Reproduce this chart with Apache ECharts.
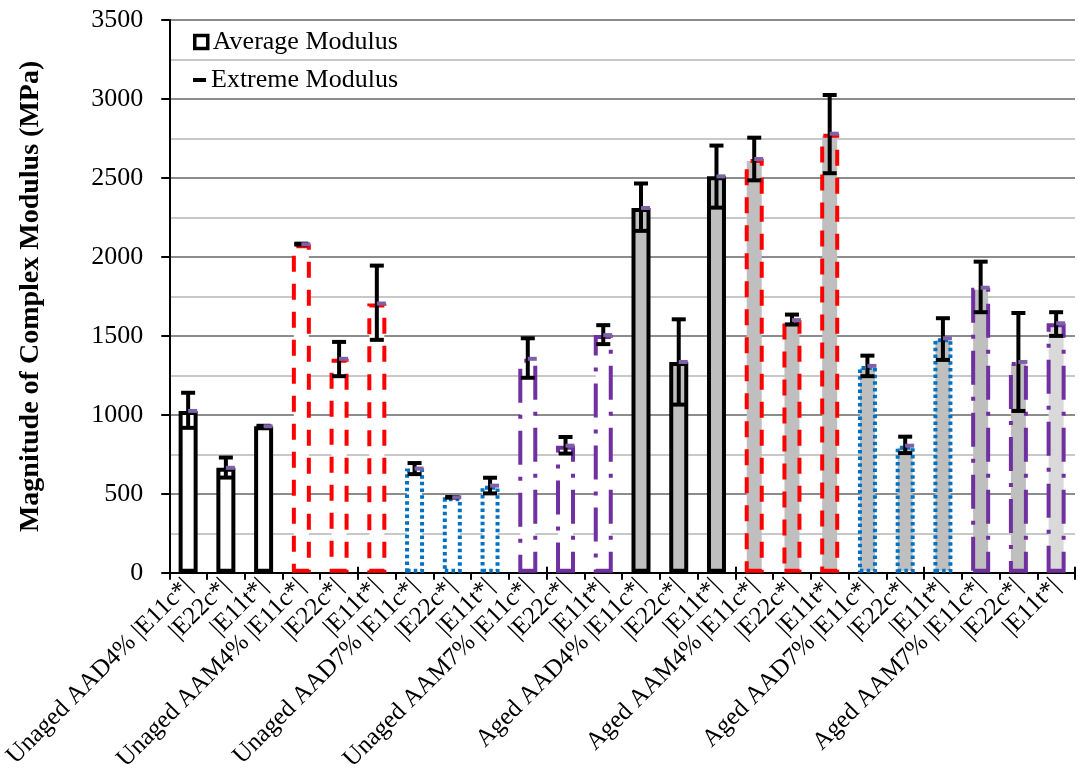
<!DOCTYPE html>
<html>
<head>
<meta charset="utf-8">
<script src="https://cdn.jsdelivr.net/npm/echarts@6/dist/echarts.min.js"></script>
<style>
  html, body { margin: 0; padding: 0; background: #fff; }
  #chart { width: 1078px; height: 774px; }
</style>
</head>
<body>
<div id="chart"></div>
<script>
// Mixture groups and the three modulus components measured for each
const groups = ['Unaged AAD4%', 'Unaged AAM4%', 'Unaged AAD7%', 'Unaged AAM7%',
                'Aged AAD4%', 'Aged AAM4%', 'Aged AAD7%', 'Aged AAM7%'];
const components = ['|E11c*|', '|E22c*|', '|E11t*|'];

// Average modulus (MPa), one per bar
const averageModulus = [1025, 665, 928, 2080, 1355, 1705, 660, 478, 552, 1355, 805, 1505,
                        2310, 1335, 2510, 2620, 1600, 2780, 1310, 805, 1485, 1805, 1335, 1580];
// Extreme modulus range (MPa): upper and lower values
const extremeHigh = [1140, 730, 931, 2084, 1462, 1945, 695, 480, 602, 1485, 860, 1568,
                     2465, 1605, 2705, 2755, 1635, 3025, 1375, 862, 1612, 1970, 1645, 1650];
const extremeLow = [918, 603, 926, 2078, 1245, 1475, 625, 476, 503, 1235, 755, 1448,
                    2165, 1065, 2312, 2485, 1572, 2530, 1245, 758, 1348, 1650, 1025, 1500];

// Category labels: group name prefixed to the first component
const categories = [];
groups.forEach(g => components.forEach((c, j) => categories.push(j === 0 ? g + ' ' + c : c)));

// Outline style per mixture, fill per ageing state
const outline = [
  { color: '#000000', type: 'solid' },
  { color: '#FF0000', type: [16, 12] },
  { color: '#0070C0', type: [3.5, 3.2] },
  { color: '#7030A0', type: [34, 12, 4, 12] }
];
const FONT = '"Liberation Serif", "Times New Roman", serif';

const barData = averageModulus.map((v, i) => {
  const g = Math.floor(i / 3);
  const aged = g >= 4;
  const o = outline[g % 4];
  let fill = aged ? '#BFBFBF' : '#FFFFFF';
  if (i === averageModulus.length - 1) fill = '#D9D9D9';
  return {
    value: v,
    itemStyle: { color: fill, borderColor: o.color, borderWidth: 4, borderType: o.type }
  };
});

const errData = averageModulus.map((v, i) => [i, extremeHigh[i], extremeLow[i], v]);

const chart = echarts.init(document.getElementById('chart'), null, { renderer: 'canvas' });

chart.setOption({
  animation: false,
  backgroundColor: '#fff',
  grid: { left: 165, right: 3, top: 20, bottom: 195, containLabel: false },
  legend: [
    {
      data: [{ name: 'Average Modulus', icon: 'rect',
               itemStyle: { color: '#fff', borderColor: '#000', borderWidth: 3.5 } }],
      left: 188, top: 24, itemWidth: 13, itemHeight: 13, itemGap: 4,
      textStyle: { fontFamily: FONT, fontSize: 26, color: '#000' }
    },
    {
      data: [{ name: 'Extreme Modulus', icon: 'rect', itemStyle: { color: '#000', borderWidth: 0 } }],
      left: 188, top: 62, itemWidth: 13, itemHeight: 4, itemGap: 4,
      textStyle: { fontFamily: FONT, fontSize: 26, color: '#000' }
    }
  ],
  xAxis: [
    {
      type: 'category',
      data: categories,
      axisLine: { lineStyle: { color: '#000', width: 2 } },
      axisTick: { show: true, length: 7, lineStyle: { color: '#000', width: 2 } },
      axisLabel: {
        rotate: 45, interval: 0, margin: 10,
        fontFamily: FONT, fontSize: 25, color: '#000'
      }
    },
    {
      type: 'category',
      data: categories,
      position: 'bottom',
      axisLine: { show: false },
      axisTick: { show: true, inside: true, length: 6, lineStyle: { color: '#000', width: 2 } },
      axisLabel: { show: false }
    }
  ],
  yAxis: {
    type: 'value',
    min: 0, max: 3500, interval: 500,
    name: 'Magnitude of Complex Modulus (MPa)',
    nameLocation: 'middle',
    nameGap: 124,
    nameTextStyle: { fontFamily: FONT, fontSize: 28, fontWeight: 'bold', color: '#000' },
    axisLine: { show: true, lineStyle: { color: '#000', width: 2 } },
    axisTick: { show: true, length: 8, lineStyle: { color: '#000', width: 2 } },
    axisLabel: { fontFamily: FONT, fontSize: 26, color: '#000', margin: 26,
                 formatter: v => String(v) },
    splitLine: { show: true, lineStyle: { color: '#8C8C8C', width: 2 } },
    minorTick: { show: false, splitNumber: 2 },
    minorSplitLine: { show: true, lineStyle: { color: '#C8C8C8', width: 2 } }
  },
  series: [
    {
      name: 'Average Modulus',
      type: 'bar',
      barWidth: 19,
      itemStyle: { color: '#FFFFFF', borderColor: '#000', borderWidth: 3 },
      data: barData,
      z: 2
    },
    {
      name: 'Extreme Modulus',
      type: 'custom',
      data: errData,
      encode: { x: 0, y: [1, 2] },
      z: 3,
      renderItem: function (params, api) {
        const idx = api.value(0);
        const pHi = api.coord([idx, api.value(1)]);
        const pLo = api.coord([idx, api.value(2)]);
        const pAvg = api.coord([idx, api.value(3)]);
        const cx = pHi[0];
        const half = 7;
        const black = { stroke: '#000', lineWidth: 4 };
        return {
          type: 'group',
          children: [
            { type: 'line', shape: { x1: cx, y1: pHi[1], x2: cx, y2: pLo[1] }, style: black },
            { type: 'line', shape: { x1: cx - half, y1: pHi[1], x2: cx + half, y2: pHi[1] }, style: black },
            { type: 'line', shape: { x1: cx - half, y1: pLo[1], x2: cx + half, y2: pLo[1] }, style: black },
            { type: 'rect', shape: { x: cx, y: pAvg[1] - 2, width: 9, height: 4 }, style: { fill: '#7E62A8' } }
          ]
        };
      }
    }
  ]
});
</script>
</body>
</html>
